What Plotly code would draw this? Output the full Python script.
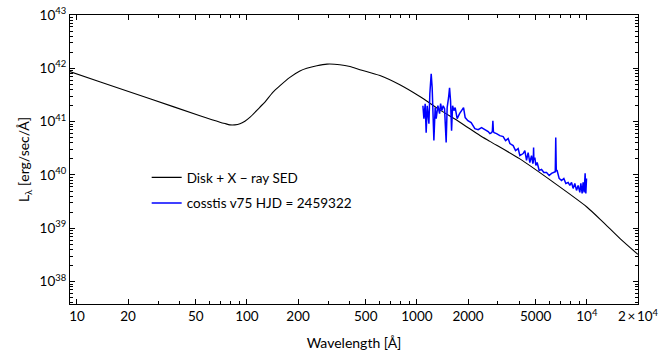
import plotly.graph_objects as go
import numpy as np

# Disk + X-ray SED model (wavelength in Angstrom, L_lambda in erg/s/A)
sed_wavelength = [9.0, 13.6, 26.9, 52.9, 69.4, 74.3, 79.4, 84.9, 91.0, 97.3, 104, 119, 128,
                  142, 156, 179, 205, 225, 258, 296, 352, 404, 462, 606, 794, 1041, 1365,
                  1791, 2350, 2686, 4036, 6310, 10000, 12420, 15630, 19950]
sed_lum = [8.8e41, 5.62e41, 2.69e41, 1.29e41, 9.77e40, 9.2e40, 8.71e40, 8.71e40, 9.12e40,
           1.02e41, 1.20e41, 1.86e41, 2.36e41, 3.55e41, 4.68e41, 6.76e41, 8.91e41, 1.00e42,
           1.12e42, 1.20e42, 1.17e42, 1.08e42, 9.44e41, 7.30e41, 4.90e41, 2.95e41, 1.66e41,
           9.77e40, 5.50e40, 4.27e40, 2.00e40, 7.41e39, 2.51e39, 1.32e39, 6.46e38, 3.24e38]

# Observed spectrum (cosstis v75)
spec_wavelength = [1085, 1100, 1119, 1134, 1150, 1177, 1192, 1214, 1230, 1242, 1259, 1281, 1299,
                   1329, 1360, 1379, 1403, 1428, 1455, 1487, 1507, 1536, 1557, 1578, 1600, 1622,
                   1651, 1680, 1726, 1783, 1839, 1882, 1924, 1995, 2086, 2194, 2294, 2402, 2512,
                   2627, 2688, 2750, 2780, 2800, 2820, 2849, 2943, 3077, 3219, 3325, 3444, 3525,
                   3686, 3808, 3944, 4036, 4220, 4318, 4418, 4515, 4620, 4727, 4812, 4840, 4861,
                   4880, 4944, 5012, 5101, 5242, 5415, 5587, 5794, 6003, 6200, 6395, 6520, 6563,
                   6610, 6688, 6872, 7099, 7323, 7524, 7762, 7943, 8128, 8306, 8499, 8697, 8887,
                   9095, 9220, 9384, 9510, 9641, 9772, 9865, 9959]
spec_lum = [1.99e41, 1.14e41, 2.17e41, 6.23e40, 1.99e41, 9.18e40, 3.33e41, 7.89e41, 4.32e41,
            2.17e41, 4.42e40, 1.83e41, 1.14e41, 1.99e41, 1.41e41, 2.17e41, 1.61e41, 1.99e41,
            1.75e41, 4.05e40, 1.83e41, 2.81e41, 4.32e41, 2.47e41, 6.79e40, 1.99e41, 1.61e41,
            1.83e41, 1.14e41, 1.41e41, 1.61e41, 1.83e41, 1.19e41, 1.04e41, 9.58e40, 7.40e40,
            7.08e40, 7.73e40, 7.08e40, 6.50e40, 5.97e40, 6.23e40, 6.6e40, 1.04e41, 6.5e40,
            6.23e40, 5.97e40, 5.47e40, 5.24e40, 4.42e40, 4.81e40, 3.88e40, 3.56e40, 2.87e40,
            3.13e40, 2.31e40, 2.52e40, 2.87e40, 1.87e40, 2.63e40, 1.71e40, 2.31e40, 1.64e40,
            1.75e40, 3.27e40, 1.9e40, 2.12e40, 1.51e40, 1.71e40, 1.21e40, 1.27e40, 1.11e40,
            1.11e40, 9.79e39, 1.07e40, 1.11e40, 1.15e40, 5.02e40, 1.2e40, 1.21e40, 8.61e39,
            7.89e39, 8.61e39, 6.94e39, 7.24e39, 6.37e39, 7.24e39, 5.60e39, 6.94e39, 5.13e39,
            6.37e39, 4.71e39, 6.94e39, 4.51e39, 7.24e39, 4.71e39, 1.07e40, 4.51e39, 8.61e39]

x_tick_vals = [10, 20, 50, 100, 200, 500, 1000, 2000, 5000, 10000, 20000]
x_tick_text = ["10", "20", "50", "100", "200", "500", "1000", "2000", "5000",
               "10<sup>4</sup>", "2\u2009\u00d7\u200910<sup>4</sup>"]
y_tick_vals = [1e38, 1e39, 1e40, 1e41, 1e42, 1e43]
y_tick_text = ["10<sup>38</sup>", "10<sup>39</sup>", "10<sup>40</sup>", "10<sup>41</sup>",
               "10<sup>42</sup>", "10<sup>43</sup>"]

x_minor = [m * 10 ** e for e in range(0, 5) for m in range(2, 10) if 9 <= m * 10 ** e <= 20000]
y_minor = [m * 10.0 ** e for e in range(37, 43) for m in range(2, 10) if 3.7e37 <= m * 10.0 ** e <= 1e43]

FONT = "Lato"

fig = go.Figure()
fig.add_trace(go.Scatter(x=sed_wavelength, y=sed_lum, mode="lines",
                         line=dict(color="black", width=1.1, shape="spline", smoothing=0.7),
                         legendgroup="a",
                         name="Disk + X \u2212 ray SED"))
fig.add_trace(go.Scatter(x=spec_wavelength, y=spec_lum, mode="lines",
                         line=dict(color="#0000ff", width=1.5), legendgroup="b",
                         name="cosstis v75 HJD = 2459322"))

axis_common = dict(showgrid=False, zeroline=False, showline=True, linecolor="black",
                   linewidth=1.2, mirror="ticks", ticks="inside", ticklen=5, tickwidth=1,
                   tickcolor="black", automargin=False,
                   tickfont=dict(family=FONT, size=13.5, color="black"))

fig.update_layout(
    width=661, height=358,
    margin=dict(l=70, r=23, t=15, b=54),
    paper_bgcolor="white", plot_bgcolor="white",
    font=dict(family=FONT, size=13.5, color="black"),
    xaxis=dict(type="log", range=[np.log10(9.1), np.log10(20000)],
               tickmode="array", tickvals=x_tick_vals, ticktext=x_tick_text,
               minor=dict(tickmode="array", tickvals=x_minor, ticks="inside", ticklen=3,
                          tickcolor="black", tickwidth=1),
               title=dict(text="Wavelength [\u00c5]", font=dict(family=FONT, size=14), standoff=14),
               **axis_common),
    yaxis=dict(type="log", range=[37.58, 43.0],
               tickmode="array", tickvals=y_tick_vals, ticktext=y_tick_text,
               minor=dict(tickmode="array", tickvals=y_minor, ticks="inside", ticklen=3,
                          tickcolor="black", tickwidth=1),
               title=dict(text="L<sub>\u03bb</sub> [erg/sec/\u00c5]", font=dict(family=FONT, size=14),
                          standoff=6),
               **axis_common),
    legend=dict(x=0.135, y=0.491, xanchor="left", yanchor="top",
                bgcolor="rgba(0,0,0,0)", borderwidth=0,
                font=dict(family=FONT, size=13.5), tracegroupgap=5),
    showlegend=True,
)

fig.write_html("out.html")
